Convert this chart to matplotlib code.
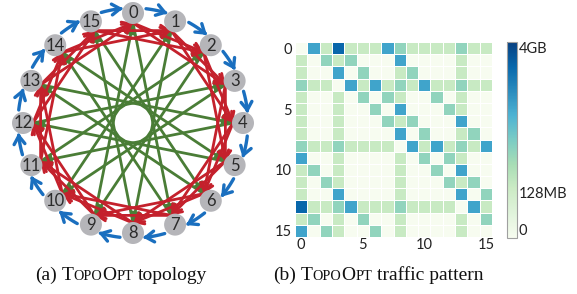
import numpy as np
import matplotlib
matplotlib.use("Agg")
import matplotlib.pyplot as plt
from matplotlib.patches import Circle, FancyArrowPatch
from matplotlib.path import Path
from matplotlib.colors import PowerNorm

# topology: 16 nodes, blue ring i->i+1, red i->i+2 and i->i+3, green i->i+7
n_nodes = 16
node_labels = [str(i) for i in range(n_nodes)]
ring_step = 1
red_steps = [2, 3]
green_step = 7

# traffic matrix, one char per cell: level index into traffic_levels_mb
traffic_levels_mb = [0, 170, 580, 1600, 3000]
traffic_rows = [
    "0314111321111211",
    "1021200030000100",
    "1003020012000100",
    "2110313121311211",
    "1001020210020100",
    "1001002030002100",
    "1001000212000300",
    "1001000030200120",
    "2112111103131213",
    "3001000010202100",
    "1201000010020300",
    "1021000010002120",
    "1003000010000302",
    "4112311121111031",
    "1201020010000102",
    "3021002010000100",
]
heat_ticks = [0, 5, 10, 15]
cbar_ticks_mb = [0, 128, 4096]
cbar_labels = ["0", "128MB", "4GB"]

cap_a = [("(a)", "b"), (" ", "b"), ("T", "b"), ("OPO", "s"), ("O", "b"), ("PT", "s"), (" ", "b"), ("topology", "b")]
cap_b = [("(b)", "b"), (" ", "b"), ("T", "b"), ("OPO", "s"), ("O", "b"), ("PT", "s"), (" ", "b"), ("traffic pattern", "b")]

blue = "#1a6fbf"
red = "#c4212c"
green = "#4a7d36"
node_gray = "#b5b5b9"

W, H = 577, 294
fig = plt.figure(figsize=(W / 100, H / 100), dpi=100)

# full-figure axes in pixel units for the graph and captions
ax = fig.add_axes([0, 0, 1, 1])
ax.set_xlim(0, W)
ax.set_ylim(H, 0)
ax.axis("off")

cx, cy, R, node_r = 133, 123, 110, 11
step = 2 * np.pi / n_nodes
r_in = R - node_r + 1


def node_xy(i, r=R):
    a = (i % n_nodes) * step
    return np.array([cx + r * np.sin(a), cy - r * np.cos(a)])


def chord(i, j, style, color, lw, ms, z):
    p, q = node_xy(i, r_in), node_xy(j, r_in)
    a = FancyArrowPatch(p, q, arrowstyle=style,
                        color=color, lw=lw, mutation_scale=ms, zorder=z,
                        shrinkA=0, shrinkB=0, capstyle="round", joinstyle="miter")
    ax.add_patch(a)


for i in range(n_nodes):
    chord(i, i + green_step, "-|>,head_length=0.5,head_width=0.25", green, 2.0, 11, 1)
for s in red_steps:
    for i in range(n_nodes):
        chord(i, i + s, "->,head_length=0.45,head_width=0.3", red, 2.0, 13, 2)

# blue ring arrows on an arc just outside the nodes
for i in range(n_nodes):
    a0 = i * step + np.radians(6.5)
    a1 = (i + ring_step) * step - np.radians(5)
    t = np.linspace(a0, a1, 12)
    rb = 115
    verts = np.column_stack([cx + rb * np.sin(t), cy - rb * np.cos(t)])
    arr = FancyArrowPatch(path=Path(verts), arrowstyle="->,head_length=0.45,head_width=0.3",
                          color=blue, lw=2.4, mutation_scale=13, zorder=2)
    ax.add_patch(arr)

for i in range(n_nodes):
    p = node_xy(i)
    ax.add_patch(Circle(p, node_r, color=node_gray, zorder=3, lw=0))
    ax.text(p[0], p[1] + 0.5, node_labels[i], ha="center", va="center",
            fontsize=12, family="Lato", color="#2b2b2b", zorder=4)

# heatmap
mat = np.array([[traffic_levels_mb[int(c)] for c in row] for row in traffic_rows])
norm = PowerNorm(gamma=0.42, vmin=0, vmax=4096)
hax = fig.add_axes([295 / W, 1 - 237 / H, 197 / W, 195 / H])
mesh = hax.pcolormesh(mat, cmap="GnBu", norm=norm, edgecolors="white", linewidth=0.7)
hax.set_xlim(0, n_nodes)
hax.set_ylim(n_nodes, 0)
for sp in hax.spines.values():
    sp.set_visible(False)
hax.set_xticks([t + 0.5 for t in heat_ticks])
hax.set_yticks([t + 0.5 for t in heat_ticks])
hax.set_xticklabels(heat_ticks, family="Lato", fontsize=10.5, color="#222222")
hax.set_yticklabels(heat_ticks, family="Lato", fontsize=10.5, color="#222222")
hax.tick_params(length=0, pad=2)
hax.tick_params(axis="x", pad=0.5)

cax = fig.add_axes([507 / W, 1 - 238 / H, 10 / W, 196 / H])
cb = fig.colorbar(mesh, cax=cax, ticks=cbar_ticks_mb)
cb.set_ticklabels(cbar_labels)
cb.outline.set_edgecolor("#a0a0a0")
cb.outline.set_linewidth(0.8)
cax.tick_params(length=0, pad=1)
for lab in cax.get_yticklabels():
    lab.set_family("Lato")
    lab.set_fontsize(10.5)
    lab.set_color("#222222")
labs = cax.get_yticklabels()
labs[0].set_va("bottom")
labs[-1].set_va("top")

# captions with small caps
renderer = fig.canvas.get_renderer()
sizes = {"b": 14, "s": 10.3}


def text_w(s, size):
    if s == " ":
        t1 = ax.text(0, 0, "a a", fontsize=size, family="Liberation Serif")
        t2 = ax.text(0, 0, "aa", fontsize=size, family="Liberation Serif")
        w = t1.get_window_extent(renderer).width - t2.get_window_extent(renderer).width
        t1.remove()
        t2.remove()
        return w
    t = ax.text(0, 0, s, fontsize=size, family="Liberation Serif")
    w = t.get_window_extent(renderer).width
    t.remove()
    return w


def caption(xc, y, pieces):
    widths = [text_w(s, sizes[k]) for s, k in pieces]
    x = xc - sum(widths) / 2
    for (s, k), w in zip(pieces, widths):
        if s != " ":
            ax.text(x, y, s, fontsize=sizes[k], family="Liberation Serif",
                    ha="left", va="baseline", color="#111111")
        x += w


caption(121, 279.5, cap_a)
caption(378, 279.5, cap_b)

fig.savefig("out.png", dpi=100)
